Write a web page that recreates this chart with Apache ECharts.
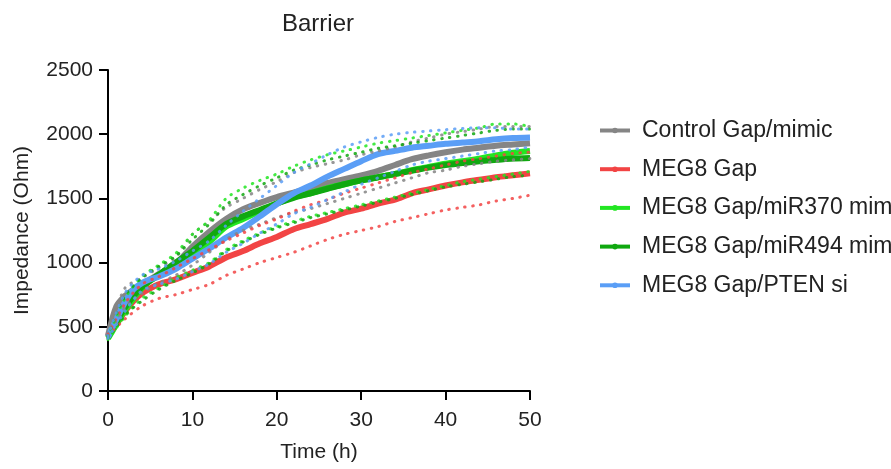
<!DOCTYPE html>
<html>
<head>
<meta charset="utf-8">
<script src="https://cdn.jsdelivr.net/npm/echarts@6/dist/echarts.min.js"></script>
<style>html,body{margin:0;padding:0;background:#fff;}#c{width:891px;height:469px;}</style>
</head>
<body>
<div id="c"></div>
<script>
// Time points (h) for the mean curves
const timeMain = [0,1,2,3,4,5,6,8,10,12,14,16,18,20,22,24,26,28,30,32,34,36,38,40,42,44,46,48,50];
// Time points (h) for the dotted SD curves
const timeSD = [0,2,4,6,8,10,12,14,16,18,20,22,24,26,28,30,32,34,36,38,40,42,44,46,48,50];

const seriesNames = ["Control Gap/mimic","MEG8 Gap","MEG8 Gap/miR370 mim","MEG8 Gap/miR494 mim","MEG8 Gap/PTEN si"];

// Means (Ohm)
const controlMean = [430,660,740,790,830,870,910,990,1125,1240,1340,1415,1465,1510,1545,1580,1620,1650,1680,1715,1760,1805,1835,1860,1880,1895,1910,1920,1930];
const meg8Mean    = [430,520,620,700,760,800,830,870,920,970,1040,1090,1150,1200,1260,1300,1340,1390,1420,1460,1490,1540,1570,1600,1625,1645,1665,1680,1695];
const mir370Mean  = [410,520,630,720,800,860,900,990,1070,1160,1280,1340,1400,1460,1510,1540,1580,1610,1640,1665,1690,1720,1745,1770,1790,1810,1835,1855,1870];
const mir494Mean  = [420,540,650,740,810,860,905,1000,1090,1195,1300,1360,1410,1460,1505,1540,1575,1610,1640,1665,1690,1715,1740,1760,1775,1790,1800,1810,1815];
const ptenMean    = [420,560,690,790,840,870,890,950,1030,1110,1195,1270,1360,1455,1540,1600,1670,1730,1790,1845,1870,1895,1910,1925,1935,1945,1960,1970,1975];

// Upper / lower SD curves (Ohm)
const controlUpper = [450,800,880,960,1040,1220,1320,1430,1500,1570,1630,1700,1740,1770,1800,1840,1870,1900,1940,1970,2000,2020,2040,2060,2060,2060];
const controlLower = [420,650,760,840,900,980,1080,1180,1250,1300,1350,1390,1420,1460,1500,1540,1580,1620,1660,1700,1720,1750,1770,1790,1800,1810];
const meg8Upper    = [440,680,830,890,960,1030,1100,1170,1230,1290,1340,1400,1450,1490,1540,1580,1620,1660,1700,1730,1760,1790,1810,1830,1850,1860];
const meg8Lower    = [430,560,660,720,750,790,830,900,950,1000,1040,1080,1130,1180,1220,1250,1280,1320,1350,1380,1410,1430,1450,1480,1500,1525];
const mir370Upper  = [420,720,890,980,1070,1220,1330,1500,1580,1640,1690,1750,1800,1840,1870,1900,1930,1950,1970,1990,2010,2030,2050,2080,2080,2060];
const mir370Lower  = [400,580,720,800,880,940,1000,1100,1170,1230,1280,1320,1360,1390,1420,1450,1480,1510,1540,1570,1600,1630,1650,1670,1690,1710];
const mir494Upper  = [430,740,880,970,1050,1180,1300,1450,1530,1600,1660,1720,1760,1800,1830,1860,1890,1910,1930,1950,1970,1990,2010,2030,2040,2040];
const mir494Lower  = [410,590,700,790,860,920,990,1090,1160,1220,1270,1310,1350,1380,1410,1440,1470,1500,1530,1560,1590,1610,1630,1650,1670,1680];
const ptenUpper    = [430,760,900,950,1010,1090,1170,1290,1400,1500,1600,1700,1770,1840,1900,1940,1975,2000,2015,2025,2035,2045,2050,2050,2040,2040];
const ptenLower    = [410,620,780,830,870,930,990,1080,1150,1230,1300,1380,1430,1490,1550,1610,1660,1710,1760,1790,1810,1830,1850,1870,1880,1900];

const yTicks = [0,500,1000,1500,2000,2500];
const xTicks = [0,10,20,30,40,50];

const colors = ["#858585","#f24444","#22e622","#10a810","#5a9ef6"];
const means = [controlMean, meg8Mean, mir370Mean, mir494Mean, ptenMean];
const uppers = [controlUpper, meg8Upper, mir370Upper, mir494Upper, ptenUpper];
const lowers = [controlLower, meg8Lower, mir370Lower, mir494Lower, ptenLower];

const zip = (xs, ys) => xs.map((x, i) => [x, ys[i]]);
const FONT = "Liberation Sans, Arial, sans-serif";

const series = [];
seriesNames.forEach((name, i) => {
  series.push({
    name: name, type: 'line', data: zip(timeMain, means[i]),
    smooth: 0.3, symbol: 'circle', symbolSize: 5, showSymbol: false,
    lineStyle: {width: 6, color: colors[i]}, itemStyle: {color: colors[i]},
    z: 2, silent: true, animation: false
  });
});
seriesNames.forEach((name, i) => {
  [uppers[i], lowers[i]].forEach(arr => {
    series.push({
      name: name + ' SD', type: 'line', data: zip(timeSD, arr),
      smooth: 0.3, showSymbol: false, symbol: 'none',
      lineStyle: {width: 3, color: colors[i], opacity: 0.85, type: [0.5, 7.5], cap: 'round'},
      z: 3, silent: true, animation: false
    });
  });
});

const chart = echarts.init(document.getElementById('c'));
chart.setOption({
  backgroundColor: '#fff',
  animation: false,
  title: {text: 'Barrier', left: 277, top: 7, textStyle: {fontFamily: FONT, fontSize: 24, fontWeight: 'normal', color: '#222'}},
  grid: {left: 108, right: 361, top: 70, bottom: 78},
  legend: {
    data: seriesNames, orient: 'vertical', left: 593, top: 114,
    itemWidth: 30, itemHeight: 7, itemGap: 15.7,
    lineStyle: {width: 4},
    textStyle: {fontFamily: FONT, fontSize: 23, color: '#222', padding: [0,0,0,7]}
  },
  xAxis: {
    type: 'value', min: 0, max: 50, interval: 10,
    name: 'Time (h)', nameLocation: 'middle', nameGap: 51,
    nameTextStyle: {fontFamily: FONT, fontSize: 21, color: '#222'},
    axisLine: {lineStyle: {color: '#000', width: 2}},
    axisTick: {length: 9, lineStyle: {color: '#000', width: 2}},
    axisLabel: {fontFamily: FONT, fontSize: 21, color: '#222', margin: 19},
    splitLine: {show: false}
  },
  yAxis: {
    type: 'value', min: 0, max: 2500, interval: 500,
    name: 'Impedance (Ohm)', nameLocation: 'middle', nameGap: 75,
    nameTextStyle: {fontFamily: FONT, fontSize: 21, color: '#222'},
    axisLine: {show: true, lineStyle: {color: '#000', width: 2}},
    axisTick: {show: true, length: 9, lineStyle: {color: '#000', width: 2}},
    axisLabel: {fontFamily: FONT, fontSize: 21, color: '#222', margin: 15, formatter: v => String(v)},
    splitLine: {show: false}
  },
  series: series
});
</script>
</body>
</html>
